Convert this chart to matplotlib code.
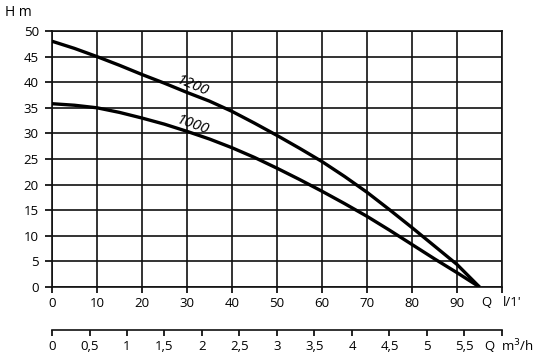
import matplotlib
matplotlib.use("Agg")
import matplotlib.pyplot as plt

# Data
q_lmin = [0, 5, 10, 15, 20, 25, 30, 35, 40, 45, 50, 55, 60, 65, 70, 75, 80, 85, 90, 95]
h_1200 = [48, 46.6, 45, 43.3, 41.5, 39.8, 38, 36.3, 34.3, 32, 29.6, 27.1, 24.5, 21.6, 18.5, 15.1, 11.6, 8, 4.4, 0]
h_1000 = [35.8, 35.5, 35, 34.1, 33, 31.8, 30.4, 28.9, 27.2, 25.3, 23.2, 21, 18.7, 16.3, 13.8, 11.1, 8.3, 5.5, 2.8, 0]
curve_labels = ["1200", "1000"]
x_ticks = [0, 10, 20, 30, 40, 50, 60, 70, 80, 90, 100]
x_ticklabels = ["0", "10", "20", "30", "40", "50", "60", "70", "80", "90", ""]
y_ticks = [0, 5, 10, 15, 20, 25, 30, 35, 40, 45, 50]
m3h_ticks = [0, 0.5, 1, 1.5, 2, 2.5, 3, 3.5, 4, 4.5, 5, 5.5, 6]
m3h_ticklabels = ["0", "0,5", "1", "1,5", "2", "2,5", "3", "3,5", "4", "4,5", "5", "5,5", ""]

plt.rcParams['font.family'] = ['Open Sans', 'DejaVu Sans']

fig = plt.figure(figsize=(5.5, 3.62), dpi=100)
L, R = 52 / 550, 502 / 550
B, T = 1 - 287 / 362, 1 - 31 / 362
ax = fig.add_axes([L, B, R - L, T - B])
ax.set_xlim(0, 100)
ax.set_ylim(0, 50)
ax.set_xticks(x_ticks)
ax.set_xticklabels(x_ticklabels)
ax.set_yticks(y_ticks)
ax.grid(True, color="#111111", linewidth=1.2)
for s in ax.spines.values():
    s.set_linewidth(1.2)
    s.set_color("#111111")
ax.tick_params(axis="x", direction="out", length=4, width=1.2, labelsize=9.5, pad=3.5)
ax.tick_params(axis="y", direction="out", length=5, width=1.2, labelsize=9.5, pad=4.5)
ax.set_axisbelow(True)

ax.plot(q_lmin, h_1200, color="black", linewidth=2.4, solid_capstyle="butt", zorder=3)
ax.plot(q_lmin, h_1000, color="black", linewidth=2.4, solid_capstyle="butt", zorder=3)

ax.text(31.0, 38.6, curve_labels[0], rotation=-23, rotation_mode="anchor",
        ha="center", va="baseline", fontsize=11, style="italic", zorder=4)
ax.text(31.0, 31.0, curve_labels[1], rotation=-20, rotation_mode="anchor",
        ha="center", va="baseline", fontsize=11, style="italic", zorder=4)

fig.text(5 / 550, 1 - 12 / 362, "H m", fontsize=10, ha="left", va="center")
fig.text(486 / 550, 1 - 302 / 362, "Q", fontsize=9.5, ha="center", va="center")
fig.text(503 / 550, 1 - 302 / 362, "l/1'", fontsize=9.5, ha="left", va="center")

# Secondary m3/h axis
ax2 = fig.add_axes([L, 1 - 330 / 362, R - L, 0.0001])
ax2.set_xlim(0, 6)
ax2.set_ylim(0, 1)
for k in ["left", "right", "top"]:
    ax2.spines[k].set_visible(False)
ax2.spines["bottom"].set_linewidth(1.2)
ax2.spines["bottom"].set_color("#111111")
ax2.set_yticks([])
ax2.set_xticks(m3h_ticks)
ax2.set_xticklabels(m3h_ticklabels)
ax2.tick_params(direction="out", length=4, width=1.2, labelsize=9.5, pad=3.5)
fig.text(489 / 550, 1 - 346 / 362, "Q", fontsize=9.5, ha="center", va="center")
fig.text(501 / 550, 1 - 346 / 362, "m$^3$/h", fontsize=9.5, ha="left", va="center")

fig.savefig("out.png", dpi=100)
